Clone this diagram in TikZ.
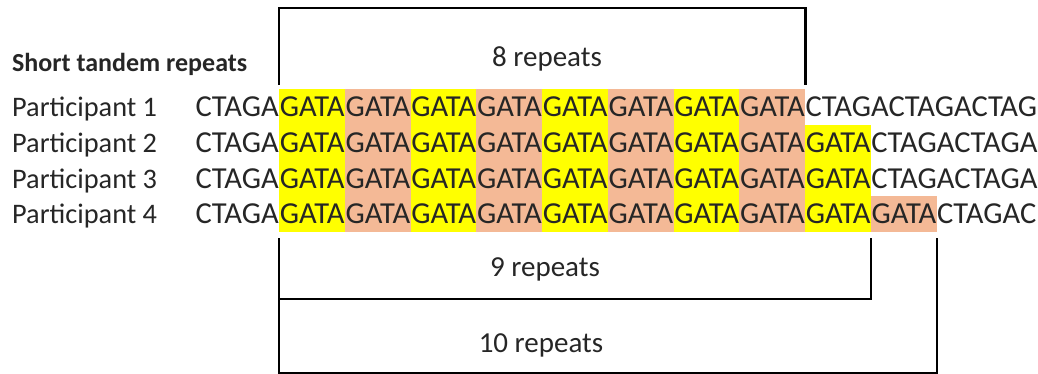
\documentclass[tikz,border=0pt]{standalone}
\usepackage{fontspec}
\setmainfont{Carlito}
\usetikzlibrary{positioning}

\definecolor{repyellow}{RGB}{255,255,0}
\definecolor{repsalmon}{RGB}{244,185,150}
\definecolor{ink}{RGB}{38,38,38}

\begin{document}
\begin{tikzpicture}[x=1pt, y=1pt,
		every node/.style={inner sep=0pt, text=ink, font=\fontsize{29}{29}\selectfont},
		seq/.style={text height=19.5pt, text depth=0pt, font=\fontsize{30.5}{30.5}\selectfont},
		unit/.style={seq, minimum width=65.75pt, minimum height=35.7pt, anchor=west},
		brk/.style={line width=2.5pt, line join=miter}]
	\useasboundingbox (0,0) rectangle (1038,373);

	\node[anchor=base west, font=\fontsize{26}{26}\selectfont\bfseries] (title) at (12,301.6) {Short tandem repeats};

	% one line per participant: name, flank, repeat units, flank
	\foreach \r/\n/\tail in {1/8/CTAGACTAGACTAG, 2/9/CTAGACTAGA, 3/9/CTAGACTAGA, 4/10/CTAGAC} {
		\pgfmathsetmacro{\ypos}{266.1-35.7*(\r-1)}
		\node[seq, anchor=west, font=\fontsize{28.3}{28.3}\selectfont] (p\r) at (12,\ypos) {Participant \r};
		\node[seq, anchor=east] (f\r) at (279,\ypos) {CTAGA};
		\foreach \k in {1,...,\n} {
			\ifodd\k \def\blk{repyellow}\else \def\blk{repsalmon}\fi
			\node[unit, fill=\blk] (b\r-\k) at ({279+65.75*(\k-1)},\ypos) {GATA};
		}
		\node[seq, anchor=west] (t\r) at (b\r-\n.east) {\tail};
	}

	\coordinate (top8) at (0,365);
	\coordinate (bot9) at (0,74);
	\coordinate (bot10) at (0,0);

	\draw[brk] ([yshift=4pt]b1-1.north west) -- (b1-1.north west |- top8) -- (b1-8.north east |- top8) -- ([yshift=4pt]b1-8.north east);
	\draw[brk] ([yshift=-6pt]b4-1.south west) -- (b4-1.south west |- bot9) -- (b4-9.south east |- bot9) -- ([yshift=-6pt]b4-9.south east);
	\draw[brk] ([yshift=-6pt]b4-1.south west) -- (b4-1.south west |- bot10) -- (b4-10.south east |- bot10) -- ([yshift=-6pt]b4-10.south east);

	\node[seq, font=\fontsize{29}{29}\selectfont] (r8) at (547,316) {8 repeats};
	\node[seq, font=\fontsize{29}{29}\selectfont] (r9) at (545,106) {9 repeats};
	\node[seq, font=\fontsize{29}{29}\selectfont] (r10) at (541,30) {10 repeats};
\end{tikzpicture}
\end{document}
